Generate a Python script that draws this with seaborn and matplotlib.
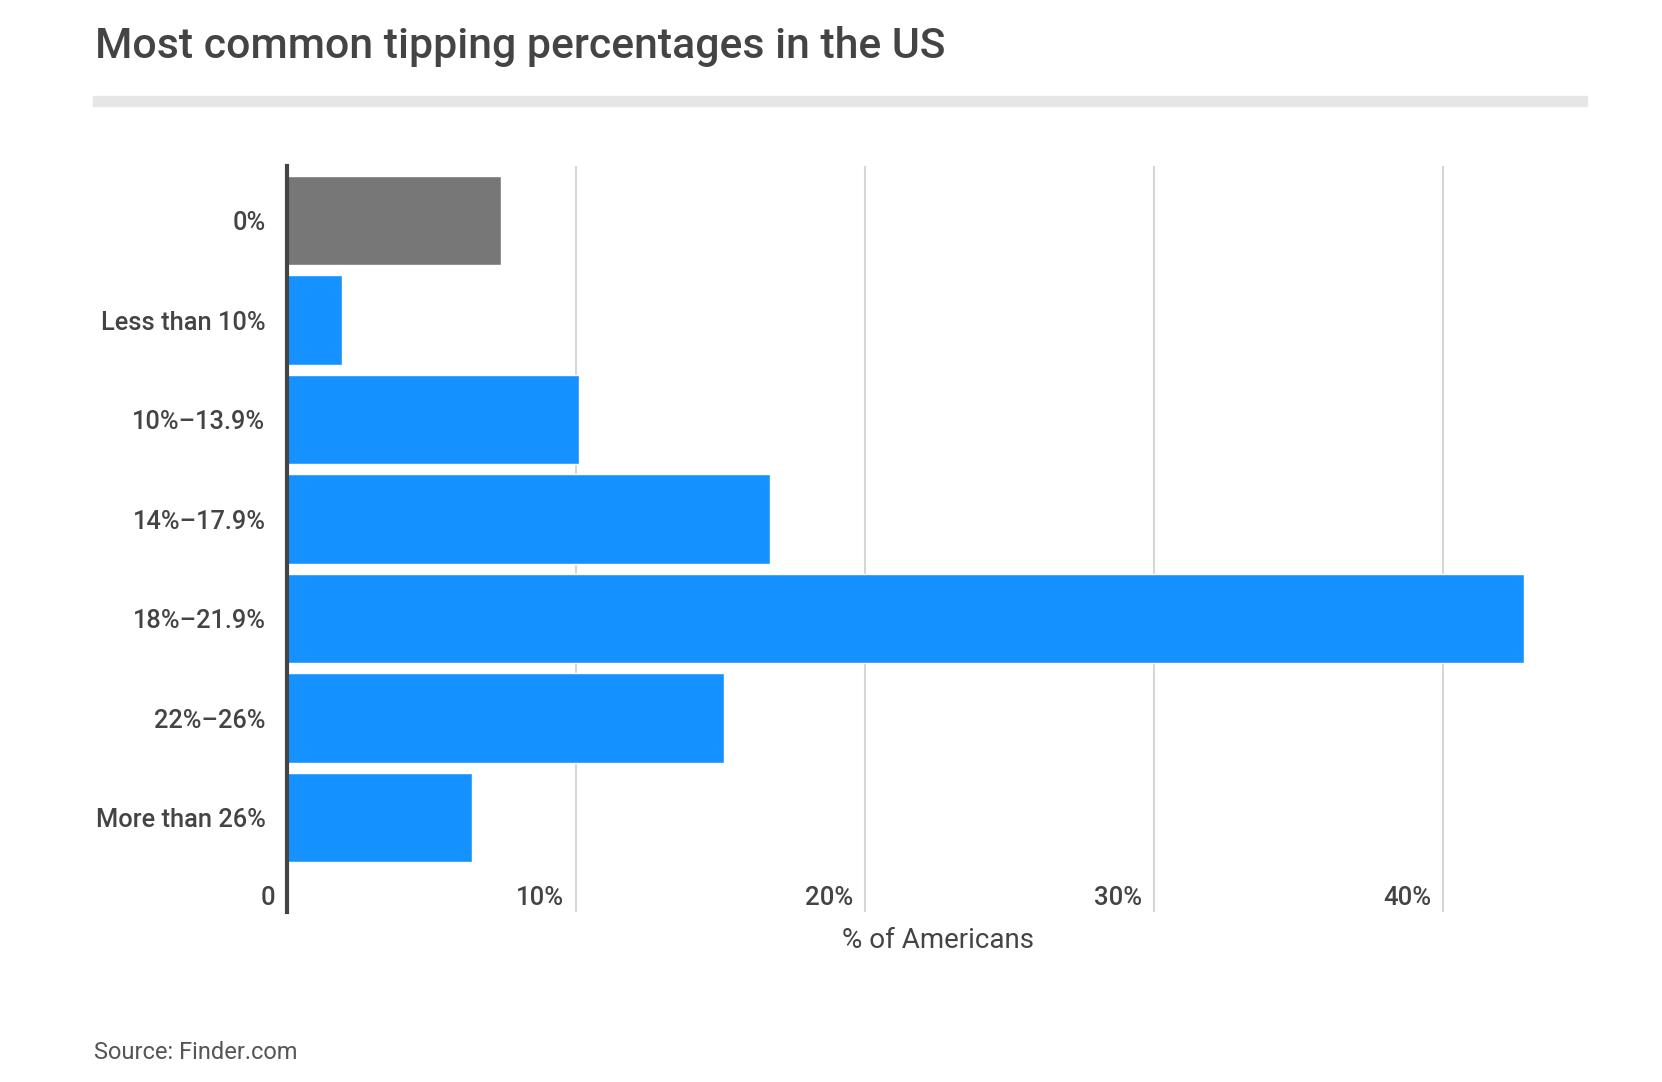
import matplotlib
matplotlib.use("Agg")
import matplotlib.pyplot as plt
import matplotlib.transforms as mtransforms
from matplotlib.patches import Rectangle
import pandas as pd
import seaborn as sns

# =========================
# DATA
# =========================
CATEGORIES = ["0%", "Less than 10%", "10%\u201313.9%", "14%\u201317.9%",
              "18%\u201321.9%", "22%\u201326%", "More than 26%"]
SHARE = [7.4, 1.9, 10.1, 16.7, 42.8, 15.1, 6.4]
XTICKS = [0, 10, 20, 30, 40]
XTICK_LABELS = ["0", "10%", "20%", "30%", "40%"]

GRAY = "#777777"
BLUE = "#1592ff"
COLORS = [GRAY] + [BLUE] * (len(CATEGORIES) - 1)
TEXT = "#444444"

# =========================
# PLOT
# =========================
sns.set_theme(style="white")
plt.rcParams["font.family"] = ["Roboto", "DejaVu Sans"]

df = pd.DataFrame({"category": CATEGORIES, "share": SHARE})

fig = plt.figure(figsize=(16.62, 10.82), dpi=100)
ax = fig.add_axes([0.1727, 0.1574, 0.9555 - 0.1727, 0.8466 - 0.1574])

sns.barplot(data=df, x="share", y="category", hue="category",
            palette=COLORS, order=CATEGORIES, hue_order=CATEGORIES,
            orient="h", width=0.9, saturation=1, legend=False, ax=ax)

ax.set_xlim(0, 45)
ax.set_ylim(6.945, -0.55)
ax.set_xticks(XTICKS)
ax.set_xticklabels([])
ax.tick_params(axis="x", length=0)
ax.xaxis.grid(True, color="#d6d6d6", linewidth=1.5)
ax.set_axisbelow(True)

for side in ["top", "right", "bottom"]:
    ax.spines[side].set_visible(False)
ax.spines["left"].set_color(TEXT)
ax.spines["left"].set_linewidth(3)
ax.spines["left"].set_zorder(5)

ax.tick_params(axis="y", length=0, pad=15.5, labelsize=18.3, labelcolor=TEXT)
for lab in ax.get_yticklabels():
    lab.set_fontweight("medium")

# x tick labels sit inside the plot, just left of each gridline
offset = mtransforms.ScaledTranslation(-0.12, 0.07, fig.dpi_scale_trans)
trans = mtransforms.blended_transform_factory(ax.transData, ax.transAxes) + offset
for val, txt in zip(XTICKS, XTICK_LABELS):
    ax.text(val, 0, txt, transform=trans, ha="right", va="baseline",
            fontsize=18.5, color=TEXT, fontweight="medium")

ax.set_xlabel("% of Americans", fontsize=20, color=TEXT)
ax.xaxis.label.set_verticalalignment("baseline")
ax.xaxis.set_label_coords(0.5, -0.0487)
ax.set_ylabel("")

# title, rule, source
fig.text(95 / 1662, 1 - 58.3 / 1082, "Most common tipping percentages in the US",
         fontsize=30.8, color=TEXT, fontweight="medium", ha="left", va="baseline")
fig.patches.append(Rectangle((93 / 1662, 1 - 106 / 1082), (1587 - 93) / 1662, 10 / 1082,
                             transform=fig.transFigure, color="#e6e6e6", zorder=0))
fig.text(94 / 1662, 1 - 1059 / 1082, "Source: Finder.com",
         fontsize=17, color="#555555", ha="left", va="baseline")

fig.savefig("out.png", dpi=100, facecolor="white")
